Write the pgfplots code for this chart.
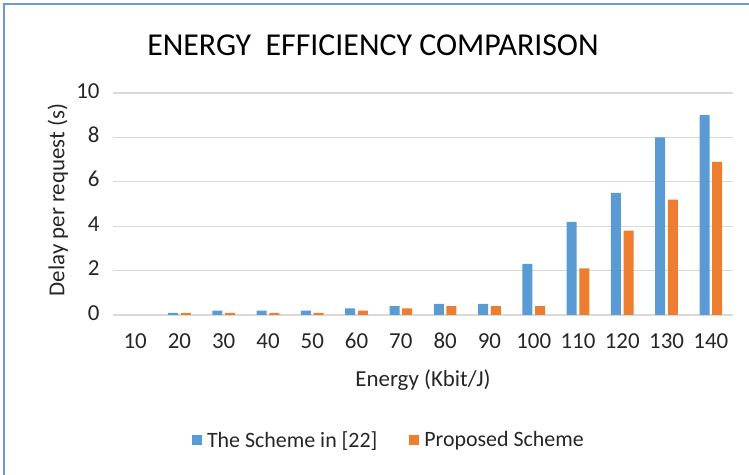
\documentclass[border=0pt]{standalone}
\usepackage{fontspec}
\setmainfont{Carlito}
\usepackage{pgfplots}
\pgfplotsset{compat=1.18}
\definecolor{xblue}{HTML}{5B9BD5}
\definecolor{xorange}{HTML}{ED7D31}
\definecolor{xgrid}{HTML}{D9D9D9}
\definecolor{xframe}{HTML}{6A9BD3}
\begin{document}
\begin{tikzpicture}
\useasboundingbox (0,0) rectangle (749bp,475bp);
\draw[xframe, line width=2bp] (4bp,0) -- (4bp,471bp) -- (749bp,471bp);
\node[font=\fontsize{32}{36}\selectfont, anchor=center] at (373bp,430bp) {ENERGY\ \ EFFICIENCY COMPARISON};
\begin{axis}[
  at={(113bp,160bp)}, anchor=south west,
  scale only axis, width=620bp, height=222bp,
  ybar=2.7bp, bar width=10bp,
  xmin=-0.5, xmax=13.5, ymin=0, ymax=10,
  xtick=data,
  xticklabels={10,20,30,40,50,60,70,80,90,100,110,120,130,140},
  ytick={0,2,4,6,8,10},
  major tick length=0pt,
  axis line style={draw=none},
  ymajorgrids, grid style={xgrid, line width=1.3bp},
  /pgf/number format/assume math mode=true,
  typeset ticklabels with strut,
  tick label style={font=\fontsize{23}{26}\selectfont, text=black!85},
  xticklabel style={yshift=-12bp},
  yticklabel style={xshift=-10bp},
  xlabel={Energy (Kbit/J)},
  ylabel={Delay per request (s)},
  label style={font=\fontsize{23}{26}\selectfont, text=black!85},
  xlabel style={at={(axis description cs:0.5,-0.293)}, anchor=center},
  ylabel style={at={(axis description cs:-0.089,0.518)}, anchor=center},
  legend columns=2,
  legend style={at={(axis description cs:0.445,-0.563)}, anchor=center, draw=none,
    font=\fontsize{22}{26}\selectfont, text=black!85,
    /tikz/every even column/.append style={column sep=30bp}},
  legend image code/.code={\fill[#1] (0bp,-5bp) rectangle (10bp,5bp); \path (13bp,0bp);},
]
\addplot[fill=xblue, draw=none] coordinates {(0,0) (1,0.1) (2,0.2) (3,0.2) (4,0.2) (5,0.3) (6,0.4) (7,0.5) (8,0.5) (9,2.3) (10,4.2) (11,5.5) (12,8.0) (13,9.0)};
\addplot[fill=xorange, draw=none] coordinates {(0,0) (1,0.1) (2,0.1) (3,0.1) (4,0.1) (5,0.2) (6,0.3) (7,0.4) (8,0.4) (9,0.4) (10,2.1) (11,3.8) (12,5.2) (13,6.9)};
\legend{The Scheme in [22], Proposed Scheme}
\end{axis}
\end{tikzpicture}
\end{document}
